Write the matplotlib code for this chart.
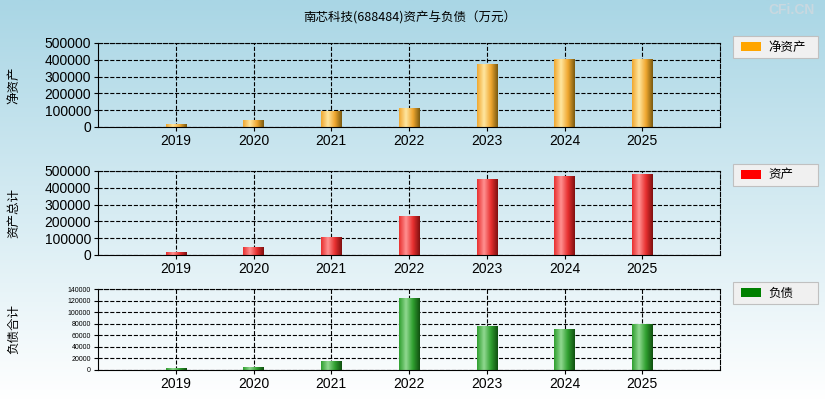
import numpy as np
import matplotlib
matplotlib.use('Agg')
from matplotlib import pyplot as plt
from matplotlib import font_manager
from matplotlib.colors import LinearSegmentedColormap

# pick an installed sans CJK font
names = sorted({f.name for f in font_manager.fontManager.ttflist})
cjk = [n for n in names if 'Sans CJK SC' in n] + [n for n in names if 'Sans CJK' in n]
plt.rcParams['font.family'] = 'sans-serif'
plt.rcParams['font.sans-serif'] = ['Liberation Sans'] + cjk[:1] + ['DejaVu Sans']

YEARS = ['2019', '2020', '2021', '2022', '2023', '2024', '2025']
NET_ASSETS = [12000, 38000, 90000, 110000, 375000, 400000, 400000]
TOTAL_ASSETS = [12000, 42000, 105000, 232000, 448000, 465000, 478000]
LIABILITIES = [2000, 4000, 15000, 124000, 76000, 70000, 78000]

W, H = 825, 400
fig = plt.figure(figsize=(W / 100, H / 100), dpi=100)

# background gradient
bg = fig.add_axes([0, 0, 1, 1], zorder=-10)
grad = np.linspace(0, 1, 256).reshape(-1, 1)
bg_cmap = LinearSegmentedColormap.from_list('bg', ['#a9d6e5', '#ffffff'])
bg.imshow(grad, aspect='auto', cmap=bg_cmap, extent=[0, 1, 0, 1])
bg.axis('off')

CJK = {'family': cjk[:1] + ['DejaVu Sans']}
fig.text(410 / W, 1 - 18 / H, '南芯科技(688484)资产与负债（万元）', ha='center', va='center',
         fontsize=9, fontdict=CJK)


def bar_cmap(light, mid, dark):
    return LinearSegmentedColormap.from_list('b', [mid, light, mid, dark])


panels = [
    (NET_ASSETS, 43, 127, 500000, 100000, '净资产', '净资产', '#ffa500',
     bar_cmap('#ffe6a0', '#f0a830', '#7a5a10'), 10),
    (TOTAL_ASSETS, 171, 255, 500000, 100000, '资产总计', '资产', '#ff0000',
     bar_cmap('#ff9090', '#e83030', '#801010'), 10),
    (LIABILITIES, 289, 370, 140000, 20000, '负债合计', '负债', '#008000',
     bar_cmap('#90d890', '#30a030', '#105010'), 5),
]

x = np.arange(len(YEARS))
bw = 0.26
for vals, top, bot, ymax, step, ylab, leg, legc, cmap, fs in panels:
    ax = fig.add_axes([98 / W, 1 - bot / H, (720 - 98) / W, (bot - top) / H])
    ax.set_facecolor('none')
    ax.set_xlim(-1, 7)
    ax.set_ylim(0, ymax)
    g = np.linspace(0, 1, 64).reshape(1, -1)
    for xi, v in zip(x, vals):
        ax.imshow(g, aspect='auto', cmap=cmap, extent=[xi - bw / 2, xi + bw / 2, 0, v], zorder=2)
    ax.set_xticks(x)
    ax.set_xticklabels(YEARS, fontsize=10)
    ax.set_yticks(np.arange(0, ymax + 1, step))
    ax.set_yticklabels([str(int(t)) for t in np.arange(0, ymax + 1, step)], fontsize=fs)
    ax.grid(True, color='black', linestyle='--', linewidth=0.8)
    ax.set_axisbelow(True)
    for s in ['top', 'right']:
        ax.spines[s].set_linestyle('--')
        ax.spines[s].set_linewidth(0.8)
    ax.tick_params(length=3, pad=2)
    fig.text(14 / W, 1 - (top + bot) / 2 / H, ylab, rotation=90, ha='center', va='center',
             fontsize=9, fontdict=CJK)
    # legend box
    fig.patches.append(plt.Rectangle((733 / W, 1 - (top + 15) / H), 85 / W, 22 / H,
                                     transform=fig.transFigure, facecolor='#f0f0f0',
                                     edgecolor='#c0c0c0', linewidth=0.8))
    fig.patches.append(plt.Rectangle((741 / W, 1 - (top + 8) / H), 20 / W, 9 / H,
                                     transform=fig.transFigure, facecolor=legc, edgecolor='none'))
    fig.text(768 / W, 1 - (top + 4) / H, leg, ha='left', va='center', fontsize=9, fontdict=CJK)

fig.text(815 / W, 1 - 10 / H, 'CFi.CN', ha='right', va='center', fontsize=10,
         color='#c8d8e0', fontweight='bold')

fig.savefig('out.png', dpi=100)
